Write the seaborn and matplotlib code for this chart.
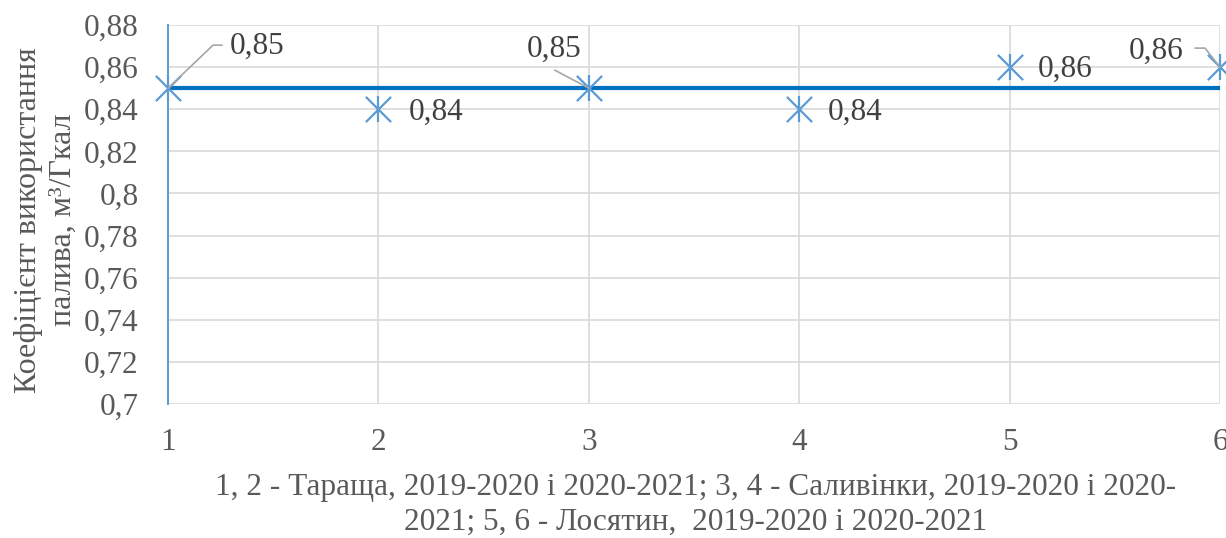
import matplotlib
matplotlib.use("Agg")
import matplotlib.pyplot as plt
import seaborn as sns
import pandas as pd
import numpy as np

# ---- data ----
points = [1, 2, 3, 4, 5, 6]
values = [0.85, 0.84, 0.85, 0.84, 0.86, 0.86]
mean_line = [0.85, 0.85, 0.85, 0.85, 0.85, 0.85]
value_labels = ["0,85", "0,84", "0,85", "0,84", "0,86", "0,86"]
y_ticks = [0.70, 0.72, 0.74, 0.76, 0.78, 0.80, 0.82, 0.84, 0.86, 0.88]
y_tick_labels = ["0,7", "0,72", "0,74", "0,76", "0,78", "0,8", "0,82", "0,84", "0,86", "0,88"]
x_title_lines = ["1, 2 - Тараща, 2019-2020 і 2020-2021; 3, 4 - Саливінки, 2019-2020 і 2020-",
                 "2021; 5, 6 - Лосятин,  2019-2020 і 2020-2021"]
y_title = "Коефіцієнт використання\nпалива, м³/Гкал"

sns.set_theme(style="white")
plt.rcParams['font.family'] = ['Liberation Serif', 'DejaVu Serif']

df = pd.DataFrame({"x": points, "y": values, "m": mean_line})

FS = 22.5
fig = plt.figure(figsize=(12.26, 5.38), dpi=100)
ax = fig.add_axes([168/1226, 134/538, (1220-168)/1226, (404-25)/538])

grid_c = "#D9D9D9"
for xv in points:
    ax.axvline(xv, color=grid_c, lw=1.2, zorder=0)
for yv in y_ticks:
    ax.axhline(yv, color=grid_c, lw=1.2, zorder=0)

sns.lineplot(data=df, x="x", y="m", ax=ax, color="#0070C0", lw=3.0, zorder=3)
sns.scatterplot(data=df, x="x", y="y", ax=ax, marker="x", s=330, color="#5B9BD5",
                linewidth=1.6, zorder=4, clip_on=False)
sns.scatterplot(data=df, x="x", y="y", ax=ax, marker="|", s=330, color="#5B9BD5",
                linewidth=1.6, zorder=4, clip_on=False)

ax.set_xlim(1, 6)
ax.set_ylim(0.70, 0.88)
ax.set_xticks(points)
ax.set_xticklabels([str(p) for p in points])
ax.set_yticks(y_ticks)
ax.set_yticklabels(y_tick_labels)
ax.tick_params(axis="both", length=0, labelsize=FS, labelcolor="#595959")
ax.tick_params(axis="y", pad=21)
ax.tick_params(axis="x", pad=17)
for s in ["top", "right", "bottom"]:
    ax.spines[s].set_visible(False)
ax.spines["left"].set_color("#5B9BD5")
ax.spines["left"].set_linewidth(1.4)
ax.set_xlabel("")
ax.set_ylabel("")

fig.text(46/1226, 1 - 220/538, y_title, rotation=90, ha="center", va="center",
         fontsize=23, color="#595959", linespacing=1.25, multialignment="center")

# data labels (offsets in pixels)
lab_c = "#404040"
offsets = [(62, 42, "left"), (30, -3, "left"), (-7, 39, "right"),
           (29, -3, "left"), (28, -2, "left"), (-37, 16, "right")]
for xv, yv, t, (dx, dy, ha) in zip(points, values, value_labels, offsets):
    ax.annotate(t, (xv, yv), xytext=(dx, dy), textcoords="offset pixels",
                ha=ha, va="center", fontsize=FS, color=lab_c, zorder=6,
                annotation_clip=False)

trans = ax.transData
def leader(xv, yv, pts):
    x0, y0 = trans.transform((xv, yv))
    xs = [x0] + [x0 + p[0] for p in pts]
    ys = [y0] + [y0 + p[1] for p in pts]
    fig.add_artist(plt.Line2D(xs, ys, transform=None, color="#A6A6A6", lw=1.2, zorder=5))

leader(points[0], values[0], [(45, 43), (54, 43)])
leader(points[2], values[2], [(-34, 18)])
leader(points[5], values[5], [(-15, 19), (-25, 19)])

for line, yc in zip(x_title_lines, [487, 522]):
    fig.text(696/1226, 1 - yc/538, line, ha="center", va="center", fontsize=FS,
             color="#595959")

fig.savefig("out.png", dpi=100)
